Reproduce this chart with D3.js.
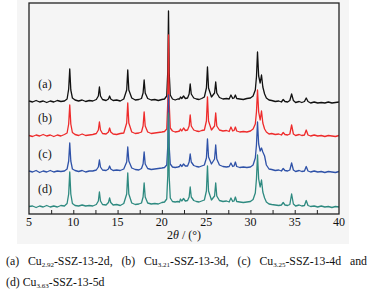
<!DOCTYPE html>
<html><head><meta charset="utf-8">
<script src="https://cdn.jsdelivr.net/npm/d3@7"></script>
<style>
html,body{margin:0;padding:0;background:#fff;}
svg{display:block;}
text{font-family:"Liberation Serif","Times New Roman",serif;fill:#111;}
</style></head>
<body><svg id="chart" width="378" height="300"></svg>
<script>
// 2θ grid (degrees)
const twoTheta = [5.0,5.4,5.8,6.2,6.6,7.0,7.4,7.8,8.2,8.6,9.0,9.3,9.48,9.6,9.72,9.9,10.2,10.6,11.0,11.4,11.8,12.2,12.6,12.83,12.95,13.07,13.3,13.7,13.97,14.1,14.23,14.5,14.9,15.3,15.7,16.03,16.15,16.27,16.6,17.0,17.4,17.7,17.88,18.0,18.12,18.4,18.8,19.2,19.6,20.0,20.3,20.55,20.67,20.75,20.83,20.95,21.2,21.5,21.8,22.0,22.1,22.25,22.45,22.65,22.9,23.08,23.2,23.32,23.6,23.9,24.2,24.5,24.8,25.03,25.15,25.27,25.6,25.95,26.08,26.2,26.5,26.9,27.3,27.6,27.8,28.0,28.15,28.3,28.45,28.8,29.2,29.6,30.0,30.3,30.55,30.68,30.8,30.93,31.1,31.25,31.4,31.6,31.8,32.1,32.4,32.8,33.2,33.5,33.7,33.9,34.2,34.45,34.65,34.85,35.1,35.5,35.8,36.1,36.3,36.5,36.8,37.2,37.6,38.0,38.4,38.8,39.2,39.6,40.0];

// intensities (a.u.), each relative to its own stacked baseline
const seriesA = [1,0,1.5,0,1,-0.5,1,0,1.5,0.5,1,3,13,33,12,4,2,1,2,0.5,1.5,1,2.5,6,15,6,2.5,1.5,3,6,3,1.5,2,1,3,12,32,12,4,2,2.5,3.5,9,22,9,3.5,2,2.5,1.5,2.5,3,6,31,91,29,7,3,2,3,3,5,3.5,6,3.5,4,8,18,8,4,3,2.5,3.5,5,14,35,14,5,9,20,9,4.5,3,3.5,3,7,3.5,4,7,3.5,3,2.5,3.5,4,6,12,25,50,26,19,27,15,8,4,2,1.5,0.5,1,0,2.5,0.5,0,1.5,8,1.5,-0.5,0.5,-0.5,0.5,4,0.5,-1,0,-1,-0.5,-1,0,-1,-0.5,0];
const seriesB = [0.5,-0.5,1,0,1.5,0,1,-0.5,1,0,1.5,3,12,31,12,3.5,1.5,0.5,2,0.5,1,1.5,2.5,6,14,6,2.5,2,4,8,4,2,1.5,2.5,3,13,33,13,4,2.5,3,4,10,24,10,4,2.5,3,3.5,4,4.5,7,34,101,32,8,5,4,4.5,5,7,5,8,5.5,6,10,21,10,6,5,4.5,5.5,6,15,39,15,6,10,23,10,6,5,5.5,4.5,9,5,5.5,9,5,4,4.5,4,5,7,12,24,46,24,16,25,13,7,4,2,2.5,1.5,2,1,3.5,1.5,1,2,11,2,0.5,1.5,0.5,1,6,1,0,1,0,0.5,-0.5,0.5,0,-0.5,0.5];
const seriesC = [1,0,1.5,-0.5,1,0,1.5,0,1,0.5,1,3,11,29,11,3,1.5,0.5,1.5,0,1,1,2,5,12,5,2,1.5,3,6,3,1.5,2,1.5,3,10,25,11,4,2.5,2,3.5,8,20,8,3.5,2.5,3,3.5,4,4.5,7,26,77,25,8,5,4.5,5,5.5,7.5,5.5,8,6,6,10,18,10,6.5,5.5,5,6,7,14,33,15,8,13,27,13,7,5.5,5,5.5,9,5.5,6,10,5.5,4.5,5,4.5,5,7,14,27,50,28,21,24,20,16,7,3,2.5,1.5,2,1,3.5,1.5,1,2,9,2,0.5,1.5,0.5,1,5.5,1,0,1,0,0.5,-0.5,0.5,0,-0.5,0.5];
const seriesD = [0.5,1,-0.5,1,0,1.5,0,1,0,1.5,1,3.5,13,35,13,3.5,1.5,1,2,1,1.5,1,2.5,6,15,6,2.5,2,4.5,9,4.5,2,2.5,1.5,3.5,13,34,13,4,2.5,3,4,10,24,10,4,3,3.5,3,4.5,5,8,32,94,30,9,5.5,5,5.5,5,8,6,8.5,6,6.5,10,20,10,6.5,5.5,5,6,7,16,41,16,7,11,24,11,6.5,5.5,6,5,9,5.5,6,10,5.5,5,4.5,5,5.5,7.5,14,28,52,28,20,27,15,9,5,3,2.5,2,1.5,2,4.5,2,1.5,2.5,13,3,1,2,1,1.5,6.5,1.5,0.5,1,0,1,0,0.5,-0.5,0.5,0];

const seriesNames = ["(a)","(b)","(c)","(d)"];
const stackOffsets = [112, 78, 42, 7];
const colors = ["#111111","#ee2b2b","#2f52a8","#2e8a80"];
const xTicks = [5,10,15,20,25,30,35,40];
const xMinorTicks = [7.5,12.5,17.5,22.5,27.5,32.5,37.5];
const xTitle = ["2", "θ", " / (°)"];
const captionLine1 = [["(a) Cu",""],["2.92","sub"],["-SSZ-13-2d, (b) Cu",""],["3.21","sub"],["-SSZ-13-3d, (c) Cu",""],["3.25","sub"],["-SSZ-13-4d and",""]];
const captionLine2 = [["(d) Cu",""],["3.63","sub"],["-SSZ-13-5d",""]];

const svg = d3.select("#chart");
const m = {l:29, r:339, t:3, b:214};

// light panel behind the figure
svg.append("rect").attr("x",17).attr("y",0).attr("width",332).attr("height",244).attr("fill","#f5f5f5");

const x = d3.scaleLinear().domain([5,40]).range([m.l, m.r]);
const y = d3.scaleLinear().domain([0,211]).range([m.b, m.t]);

const series = [seriesA, seriesB, seriesC, seriesD];
const line = d3.line().x(d=>x(d[0])).y(d=>y(d[1]));

series.forEach((s,i)=>{
  const pts = twoTheta.map((t,j)=>[t, s[j] + stackOffsets[i]]);
  svg.append("path").attr("d", line(pts)).attr("fill","none")
    .attr("stroke", colors[i]).attr("stroke-width",1.3).attr("stroke-linejoin","round");
  svg.append("text").attr("x", 45).attr("y", y(stackOffsets[i] + 14)).attr("text-anchor","middle")
    .attr("font-size",12).text(seriesNames[i]);
});

// frame
svg.append("rect").attr("x",m.l).attr("y",m.t).attr("width",m.r-m.l).attr("height",m.b-m.t)
  .attr("fill","none").attr("stroke","#222").attr("stroke-width",1.3);

// x axis ticks (inward) and labels
const ax = svg.append("g").attr("transform",`translate(0,${m.b})`);
ax.call(d3.axisBottom(x).tickValues(xTicks.slice(1,-1)).tickSize(-4).tickFormat(""))
  .call(g=>g.select(".domain").remove()).selectAll("line").attr("stroke","#222");
ax.append("g").call(d3.axisBottom(x).tickValues(xMinorTicks).tickSize(-4).tickFormat(""))
  .call(g=>g.select(".domain").remove()).selectAll("line").attr("stroke","#222");
svg.append("g").selectAll("text").data(xTicks).join("text")
  .attr("x", d=>x(d)).attr("y", 226).attr("text-anchor","middle").attr("font-size",12).text(d=>d);

const tt = svg.append("text").attr("x", x(22.5)).attr("y", 239).attr("text-anchor","middle").attr("font-size",12);
tt.append("tspan").text(xTitle[0]);
tt.append("tspan").attr("font-style","italic").text(xTitle[1]);
tt.append("tspan").text(xTitle[2]);

function caption(parts, yy, len){
  const t = svg.append("text").attr("x",6).attr("y",yy).attr("font-size",11.8);
  parts.forEach((p,k)=>{
    if(p[1]==="sub"){
      t.append("tspan").attr("font-size",7).attr("dy",2).text(p[0]);
    } else {
      const ts = t.append("tspan").text(p[0]);
      if(k>0) ts.attr("dy",-2);
    }
  });
  if(len){
    const w = t.node().getComputedTextLength();
    const spaces = parts.filter(p=>p[1]!=="sub").map(p=>p[0]).join("").split(" ").length-1;
    t.attr("word-spacing", Math.max(0,(len-w)/spaces));
  }
}
caption(captionLine1, 265, 361);
caption(captionLine2, 286, null);
</script></body></html>
